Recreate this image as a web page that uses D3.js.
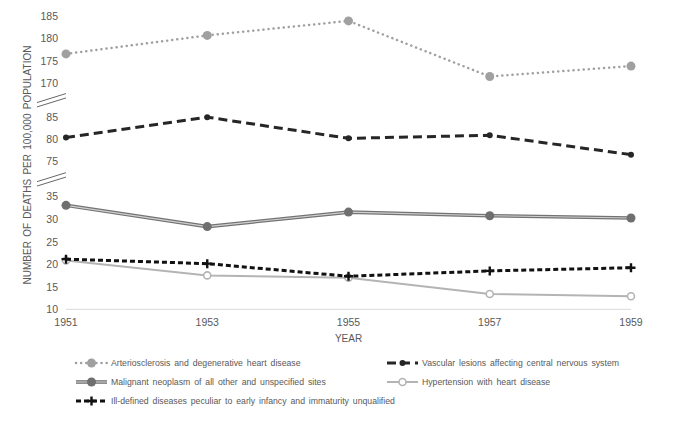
<!DOCTYPE html>
<html>
<head>
<meta charset="utf-8">
<script src="https://cdn.jsdelivr.net/npm/d3@7"></script>
<style>
  body { margin: 0; background: #fff; }
  text { font-family: "Liberation Sans", Arial, sans-serif; fill: #595959; }
</style>
</head>
<body>
<div id="chart"></div>
<script>
var years = [1951, 1953, 1955, 1957, 1959];
var arterio = [176.5, 180.6, 183.8, 171.5, 173.8];
var vascular = [80.4, 85.1, 80.2, 80.9, 76.5];
var malignant = [33.0, 28.3, 31.5, 30.7, 30.2];
var hypertension = [20.8, 17.5, 17.0, 13.4, 12.9];
var illDefined = [21.1, 20.1, 17.3, 18.5, 19.2];
var yTicks = [10, 15, 20, 25, 30, 35, 75, 80, 85, 170, 175, 180, 185];
var seriesNames = [
  "Arteriosclerosis and degenerative heart disease",
  "Vascular lesions affecting central nervous system",
  "Malignant neoplasm of all other and unspecified sites",
  "Hypertension with heart disease",
  "Ill-defined diseases peculiar to early infancy and immaturity unqualified"
];

var w = 675;
var h = 435;

var svg = d3.select("#chart")
  .append("svg")
  .attr("width", w)
  .attr("height", h);

var xScale = d3.scaleLinear()
  .domain([1951, 1959])
  .range([66, 631]);

// broken axis: three segments laid out on an even "step" grid
var stepScale = d3.scaleLinear()
  .domain([0, 13])
  .range([309.3, 15.5]);

var yScale = d3.scaleLinear()
  .domain([10, 35, 75, 85, 170, 185])
  .range([0, 5, 6.55, 8.5, 10, 13].map(stepScale));

// bottom axis line
svg.append("line")
  .attr("x1", xScale(1951)).attr("x2", xScale(1959))
  .attr("y1", yScale(10)).attr("y2", yScale(10))
  .attr("stroke", "#d9d9d9")
  .attr("stroke-width", 1);

// y tick labels
svg.selectAll(".ylab")
  .data(yTicks)
  .enter().append("text")
  .attr("class", "ylab")
  .attr("x", 58)
  .attr("y", function(d) { return yScale(d) + 4; })
  .attr("text-anchor", "end")
  .style("font-size", "10.5px")
  .text(function(d) { return d; });

// break marks
[5.75, 9.25].forEach(function(s) {
  var cy = stepScale(s);
  [-2.2, 2.2].forEach(function(off) {
    svg.append("line")
      .attr("x1", 37).attr("y1", cy + off + 4.5)
      .attr("x2", 66).attr("y2", cy + off - 4.5)
      .attr("stroke", "#404040")
      .attr("stroke-width", 0.8);
  });
});

// x labels
svg.selectAll(".xlab")
  .data(years)
  .enter().append("text")
  .attr("class", "xlab")
  .attr("x", function(d) { return xScale(d); })
  .attr("y", 326)
  .attr("text-anchor", "middle")
  .style("font-size", "10.5px")
  .text(function(d) { return d; });

svg.append("text")
  .attr("x", xScale(1955))
  .attr("y", 342)
  .attr("text-anchor", "middle")
  .style("font-size", "10px")
  .text("YEAR");

svg.append("text")
  .attr("transform", "translate(31," + 165 + ") rotate(-90)")
  .attr("text-anchor", "middle")
  .style("font-size", "10px")
  .style("word-spacing", "1.5px")
  .text("NUMBER OF DEATHS PER 100,000 POPULATION");

var lineGen = d3.line()
  .x(function(d) { return xScale(d.year); })
  .y(function(d) { return yScale(d.value); });

function pts(values) {
  return values.map(function(v, i) { return {year: years[i], value: v}; });
}

// line styles
var styles = [
  {values: arterio, strokes: [{color: "#a0a0a0", width: 2.5, dash: "0.1,5", cap: "round"}],
   marker: {type: "circle", r: 4.5, fill: "#a0a0a0", stroke: "none"}},
  {values: vascular, strokes: [{color: "#262626", width: 3, dash: "9,5"}],
   marker: {type: "circle", r: 3, fill: "#262626", stroke: "none"}},
  {values: malignant, strokes: [{color: "#737373", width: 3.6}, {color: "#d0d0d0", width: 1.1}],
   marker: {type: "circle", r: 4.5, fill: "#6f6f6f", stroke: "none"}},
  {values: hypertension, strokes: [{color: "#b4b4b4", width: 2}],
   marker: {type: "circle", r: 3.5, fill: "#fff", stroke: "#b4b4b4"}},
  {values: illDefined, strokes: [{color: "#111", width: 3, dash: "5,3"}],
   marker: {type: "plus", r: 4.5, fill: "none", stroke: "#111"}}
];

function drawMarker(g, m, x, y) {
  if (m.type === "circle") {
    g.append("circle")
      .attr("cx", x).attr("cy", y).attr("r", m.r)
      .attr("fill", m.fill)
      .attr("stroke", m.stroke)
      .attr("stroke-width", 1.6);
  } else {
    g.append("path")
      .attr("d", "M" + (x - m.r) + "," + y + "H" + (x + m.r) + "M" + x + "," + (y - m.r) + "V" + (y + m.r))
      .attr("stroke", m.stroke)
      .attr("stroke-width", 2.4)
      .attr("fill", "none");
  }
}

function drawStrokes(g, st, d) {
  st.strokes.forEach(function(s) {
    g.append("path")
      .attr("d", d)
      .attr("fill", "none")
      .attr("stroke", s.color)
      .attr("stroke-width", s.width)
      .attr("stroke-dasharray", s.dash || null)
      .attr("stroke-linecap", s.cap || "butt");
  });
}

styles.forEach(function(st) {
  var g = svg.append("g");
  var data = pts(st.values);
  drawStrokes(g, st, lineGen(data));
  data.forEach(function(d) {
    drawMarker(g, st.marker, xScale(d.year), yScale(d.value));
  });
});

// legend
var legendPos = [[76, 363], [387, 363], [76, 382], [387, 382], [76, 401]];

styles.forEach(function(st, i) {
  var g = svg.append("g");
  var lx = legendPos[i][0], ly = legendPos[i][1];
  drawStrokes(g, st, "M" + lx + "," + ly + "H" + (lx + 31));
  drawMarker(g, st.marker, lx + 15.5, ly);
  g.append("text")
    .attr("x", lx + 35)
    .attr("y", ly + 3)
    .style("font-size", "8.7px")
    .style("word-spacing", "1.5px")
    .text(seriesNames[i]);
});
</script>
</body>
</html>
